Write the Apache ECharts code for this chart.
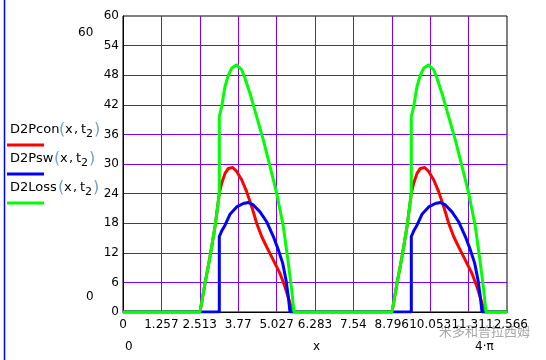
<!DOCTYPE html>
<html>
<head>
<meta charset="utf-8">
<script src="https://cdn.jsdelivr.net/npm/echarts@6/dist/echarts.min.js"></script>
<style>html,body{margin:0;padding:0;background:#fff}#c{width:546px;height:360px}</style>
</head>
<body>
<div id="c"></div>
<script>
// x tick labels as shown by the chart
const xTickLabels = ['0','1.257','2.513','3.77','5.027','6.283','7.54','8.796','10.053','11.31','12.566'];
const yTickLabels = ['0','6','12','18','24','30','36','42','48','54','60'];

// D2Pcon(x,t2)
const pconX = [0, 2.520, 2.683, 2.847, 3.011, 3.152, 3.229, 3.338, 3.447, 3.589, 3.720, 3.883, 4.047, 4.211, 4.374, 4.538, 4.701, 4.920, 5.138, 5.301, 5.465, 5.552,
               8.803, 8.966, 9.130, 9.294, 9.435, 9.512, 9.621, 9.730, 9.872, 10.003, 10.166, 10.330, 10.494, 10.657, 10.821, 10.984, 11.203, 11.421, 11.584, 11.748, 11.835, 12.566];
const pconY = [0, 0, 5.8, 11.2, 17.3, 24.1, 26.1, 28.1, 29.1, 29.3, 28.5, 26.8, 24.4, 21.4, 18.0, 15.3, 13.2, 10.5, 7.8, 5.1, 1.8, 0,
               0, 5.8, 11.2, 17.3, 24.1, 26.1, 28.1, 29.1, 29.3, 28.5, 26.8, 24.4, 21.4, 18.0, 15.3, 13.2, 10.5, 7.8, 5.1, 1.8, 0, 0];

// D2Psw(x,t2)
const pswX = [0, 3.152, 3.152, 3.229, 3.338, 3.501, 3.720, 3.938, 4.101, 4.265, 4.483, 4.701, 4.920, 5.083, 5.225, 5.334, 5.410, 5.465,
              9.435, 9.435, 9.512, 9.621, 9.784, 10.003, 10.221, 10.384, 10.548, 10.766, 10.984, 11.203, 11.366, 11.508, 11.617, 11.693, 11.748, 12.566];
const pswY = [0, 0, 15.3, 16.4, 17.6, 19.8, 21.3, 22.0, 22.2, 21.7, 20.3, 18.3, 15.3, 12.6, 9.9, 6.5, 3.1, 0,
              0, 15.3, 16.4, 17.6, 19.8, 21.3, 22.0, 22.2, 21.7, 20.3, 18.3, 15.3, 12.6, 9.9, 6.5, 3.1, 0, 0];

// D2Loss(x,t2)
const lossX = [0, 2.520, 2.683, 2.847, 3.011, 3.152, 3.152, 3.229, 3.338, 3.447, 3.556, 3.720, 3.883, 3.992, 4.156, 4.374, 4.592, 4.810, 5.029, 5.247, 5.410, 5.520, 5.596,
               8.803, 8.966, 9.130, 9.294, 9.435, 9.435, 9.512, 9.621, 9.730, 9.839, 10.003, 10.166, 10.275, 10.439, 10.657, 10.875, 11.093, 11.312, 11.530, 11.693, 11.803, 11.879, 12.566];
const lossY = [0, 0, 5.8, 11.2, 17.3, 24.0, 39.6, 41.6, 45.7, 48.0, 49.4, 50.1, 49.1, 47.4, 44.3, 39.6, 34.9, 29.5, 24.1, 17.3, 9.9, 4.5, 0,
               0, 5.8, 11.2, 17.3, 24.0, 39.6, 41.6, 45.7, 48.0, 49.4, 50.1, 49.1, 47.4, 44.3, 39.6, 34.9, 29.5, 24.1, 17.3, 9.9, 4.5, 0, 0];

const seriesNames = ['D2Pcon', 'D2Psw', 'D2Loss'];
const seriesColors = ['#ff0000', '#0000ff', '#00ff00'];

const pairs = (xs, ys) => xs.map((x, i) => [x, ys[i]]);
const XMAX = 4 * Math.PI;
const XINT = XMAX / 10;
const FONT = '"DejaVu Sans", Verdana, sans-serif';

const chart = echarts.init(document.getElementById('c'), null, {renderer: 'canvas'});

function legendItem(name, y, parenX, color) {
  const f13 = '13px ' + FONT;
  return [
    {type: 'text', x: 10, y: y, style: {text: name, font: f13, fill: '#000', verticalAlign: 'middle'}},
    {type: 'text', x: parenX, y: y, style: {text: '(', font: '16px ' + FONT, fill: '#6fa3cf', verticalAlign: 'middle'}},
    {type: 'text', x: parenX + 6, y: y, style: {text: 'x', font: f13, fill: '#000', verticalAlign: 'middle'}},
    {type: 'text', x: parenX + 15, y: y, style: {text: ',', font: f13, fill: '#000', verticalAlign: 'middle'}},
    {type: 'text', x: parenX + 22, y: y, style: {text: 't', font: f13, fill: '#000', verticalAlign: 'middle'}},
    {type: 'text', x: parenX + 27, y: y + 4, style: {text: '2', font: '11px ' + FONT, fill: '#000', verticalAlign: 'middle'}},
    {type: 'text', x: parenX + 35, y: y, style: {text: ')', font: '16px ' + FONT, fill: '#6fa3cf', verticalAlign: 'middle'}},
    {type: 'line', shape: {x1: 7, y1: y + 15, x2: 44, y2: y + 15}, style: {stroke: color, lineWidth: 3}}
  ];
}

const graphics = [
  {type: 'line', shape: {x1: 4.5, y1: 0, x2: 4.5, y2: 360}, style: {stroke: '#0000ff', lineWidth: 1.5}},
  {type: 'text', x: 78, y: 33, style: {text: '60', font: '12px ' + FONT, fill: '#000', verticalAlign: 'middle'}},
  {type: 'text', x: 86, y: 297, style: {text: '0', font: '12px ' + FONT, fill: '#000', verticalAlign: 'middle'}},
  {type: 'text', x: 125, y: 347, style: {text: '0', font: '12px ' + FONT, fill: '#000', verticalAlign: 'middle'}},
  {type: 'text', x: 313, y: 347, style: {text: 'x', font: '12px ' + FONT, fill: '#000', verticalAlign: 'middle'}},
  {type: 'text', x: 475, y: 347, style: {text: '4·π', font: '12px ' + FONT, fill: '#000', verticalAlign: 'middle'}},
  {type: 'text', x: 439, y: 331, style: {text: '米多和普拉西姆', font: '13px "Noto Sans CJK SC", sans-serif', fill: '#a8a8a8', verticalAlign: 'middle'}},
  ...legendItem('D2Pcon', 130, 59, seriesColors[0]),
  ...legendItem('D2Psw', 159, 54, seriesColors[1]),
  ...legendItem('D2Loss', 188, 58, seriesColors[2])
];

chart.setOption({
  animation: false,
  backgroundColor: '#fff',
  grid: {left: 123, top: 16, width: 384, height: 296, show: true, borderColor: '#000', borderWidth: 1, backgroundColor: 'transparent'},
  xAxis: {
    type: 'value', min: 0, max: XMAX, interval: XINT,
    axisLine: {show: true, onZero: false, lineStyle: {color: '#000', width: 1}},
    axisTick: {show: false},
    splitLine: {show: true, showMinLine: false, showMaxLine: false, lineStyle: {color: '#8000ff', width: 1}},
    axisLabel: {
      color: '#000', fontSize: 12, fontFamily: FONT, margin: 7, showMinLabel: true, showMaxLabel: true,
      formatter: v => xTickLabels[Math.round(v / XINT)] ?? ''
    }
  },
  yAxis: {
    type: 'value', min: 0, max: 60, interval: 6,
    axisLine: {show: true, lineStyle: {color: '#000', width: 1}},
    axisTick: {show: false},
    splitLine: {show: true, showMinLine: false, showMaxLine: false, lineStyle: {color: '#8000ff', width: 1}},
    axisLabel: {
      color: '#000', fontSize: 12, fontFamily: FONT, margin: 4,
      formatter: v => yTickLabels[Math.round(v / 6)] ?? ''
    }
  },
  series: [
    {name: seriesNames[0], type: 'line', data: pairs(pconX, pconY), showSymbol: false, lineStyle: {color: seriesColors[0], width: 3}, itemStyle: {color: seriesColors[0]}, clip: true},
    {name: seriesNames[1], type: 'line', data: pairs(pswX, pswY), showSymbol: false, lineStyle: {color: seriesColors[1], width: 3}, itemStyle: {color: seriesColors[1]}, clip: true},
    {name: seriesNames[2], type: 'line', data: pairs(lossX, lossY), showSymbol: false, lineStyle: {color: seriesColors[2], width: 3}, itemStyle: {color: seriesColors[2]}, clip: true}
  ],
  graphic: graphics
});
</script>
</body>
</html>
